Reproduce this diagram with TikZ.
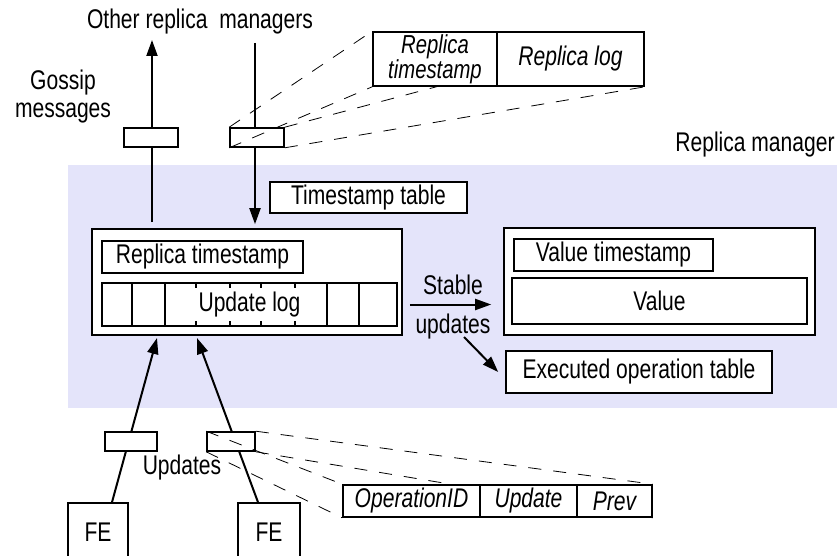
\documentclass[tikz,border=0pt]{standalone}
\usepackage{fontspec}
\setmainfont{Liberation Sans}[FakeStretch=0.78]
\usetikzlibrary{arrows.meta}
\pgfdeclarelayer{front}
\pgfsetlayers{main,front}
\definecolor{rmback}{RGB}{228,228,250}
\newcommand\diagfont{\fontsize{27}{28}\selectfont}
\begin{document}
\begin{tikzpicture}[x=1pt, y=-1pt, font=\diagfont,
  box/.style={draw, rectangle, line width=1.6pt, fill=white, inner sep=0pt},
  slot/.style={draw, rectangle, line width=1.6pt, fill=white, minimum width=54pt, minimum height=19pt},
  link/.style={line width=2pt, -{Triangle[length=16pt,width=11pt]}},
  fan/.style={line width=0.8pt, dash pattern=on 13pt off 12pt}]
\useasboundingbox (0,0) rectangle (837,556);
\clip (0,0) rectangle (837,556);
\fill[rmback] (68,165) rectangle (837,408);
\node (rmlabel) at (755,145) {Replica manager};
\node (others) at (200,22) {Other replica\ \ managers};
\node[align=center] (gossip) at (63,97) {Gossip\\messages};

\node[box, minimum width=197pt, minimum height=31pt] (tstable) at (368.5,197.5) {Timestamp table};
\node[box, minimum width=310pt, minimum height=106pt] (rm) at (247,282) {};
\node[box, minimum width=201pt, minimum height=32pt] (rts) at (202.5,257) {Replica timestamp};
\node[box, minimum width=295pt, minimum height=43pt] (ulog) at (249.5,304.5) {Update log};
\foreach \x in {132,165,327,359}
  \draw[line width=1.6pt] (\x,0 |- ulog.north) -- (\x,0 |- ulog.south);
\foreach \x in {196,230,261,295} {
  \draw[line width=1.8pt] (\x,0 |- ulog.north) -- ++(0,6);
  \draw[line width=1.8pt] (\x,0 |- ulog.south) -- ++(0,-6);
}

\node[box, minimum width=311pt, minimum height=107pt] (vbox) at (659.5,281.5) {};
\node[box, minimum width=199pt, minimum height=32pt] (vts) at (613.5,255) {Value timestamp};
\node[box, minimum width=295pt, minimum height=46pt] (val) at (659.5,301) {Value};
\node[box, minimum width=266pt, minimum height=42pt] (exec) at (639,372) {Executed operation table};

\draw[link, shorten <=7pt, shorten >=12pt] (rm.east |- ulog) -- (vbox.west |- ulog)
  node[midway, above=9pt, inner sep=0pt] {Stable}
  node[midway, below=8pt, inner sep=0pt] {updates};
\coordinate (diagfoot) at (464,337);
\draw[link] (diagfoot) -- ([xshift=-7pt]exec.west);

\coordinate (gosfoot) at (152,222);
\coordinate (gostip) at (152,40);
\coordinate (intop) at (255,43);
\draw[link] (gosfoot) -- (gostip);
\draw[link, shorten >=4pt] (intop) -- (intop |- rm.north);
\node[slot] (gout) at (151,137.5) {};
\node[slot] (gin) at (257,137.5) {};

\begin{pgfonlayer}{front}
\node[box, minimum width=124pt, minimum height=54pt, align=center, font=\fontsize{26}{18}\selectfont\itshape] (rtscell) at (435,59) {Replica\\timestamp};
\node[box, minimum width=147pt, minimum height=54pt, font=\diagfont\itshape] (rlogcell) at (570.5,59) {Replica log};
\node[box, minimum width=137pt, minimum height=32pt, font=\diagfont\itshape] (opid) at (411.5,501) {OperationID};
\node[box, minimum width=97pt, minimum height=32pt, font=\diagfont\itshape] (upd) at (528.5,501) {Update};
\node[box, minimum width=75pt, minimum height=32pt, font=\diagfont\itshape] (prev) at (614.5,501) {Prev};
\end{pgfonlayer}
\draw[fan] (gin.north west) -- (rtscell.north west);
\draw[fan] (gin.south west) -- (rtscell.south west);
\draw[fan] (gin.north east) -- (rlogcell.north east);
\draw[fan] (gin.south east) -- (rlogcell.south east);

\coordinate (in1) at (157,338);
\coordinate (in2) at (197,338);
\node[box, minimum width=60pt, minimum height=58pt] (fe1) at (98,532) {FE};
\node[box, minimum width=62pt, minimum height=58pt] (fe2) at (269,532) {FE};
\draw[link] ([xshift=14pt]fe1.north) -- (in1);
\draw[link] ([xshift=-11pt]fe2.north) -- (in2);
\node[slot, minimum width=52pt] (uout1) at (131,441.5) {};
\node[slot, minimum width=48pt] (uout2) at (231,441.5) {};
\node (updlabel) at (182,468) {Updates};
\draw[fan] (uout2.north west) -- (opid.north west);
\draw[fan] (uout2.south west) -- (opid.south west);
\draw[fan] (uout2.north east) -- (prev.north east);
\draw[fan] (uout2.south east) -- (prev.south east);
\end{tikzpicture}
\end{document}
